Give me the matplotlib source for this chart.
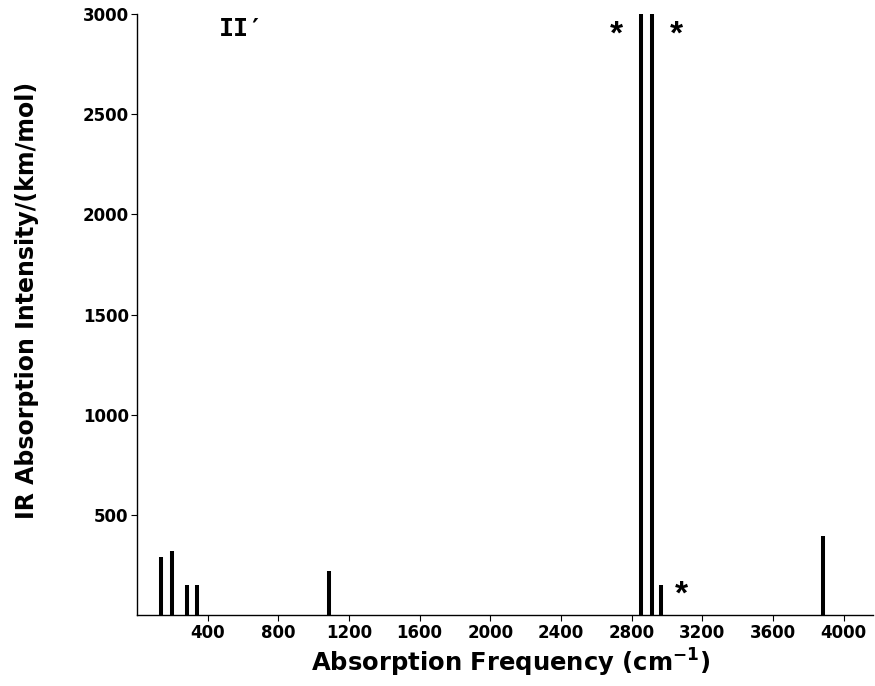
import matplotlib
matplotlib.use('Agg')
import matplotlib.pyplot as plt
import numpy as np

# IR spectrum of II' (frequencies in cm-1, intensities in km/mol)
freqs = [136, 196, 282, 338, 1084, 2853, 2915, 2968, 3883]
intensities = [294, 322, 150, 150, 223, 3300, 3200, 150, 396]

# bands marked with an asterisk (x, y label position)
star_x = [2714, 3054, 3082]
star_y = [2895, 2895, 100]

x_ticks = [400, 800, 1200, 1600, 2000, 2400, 2800, 3200, 3600, 4000]
y_ticks = [500, 1000, 1500, 2000, 2500, 3000]


def main():
    plt.rcParams['font.family'] = ['DejaVu Sans']
    fig = plt.figure(figsize=(8.75, 6.86), dpi=100)
    ax = fig.add_axes([0.1566, 0.1028, 0.8414, 0.8768])

    ax.vlines(freqs, 0, intensities, colors='black', linewidth=2.9)

    for x, y in zip(star_x, star_y):
        ax.text(x, y, '*', fontsize=24, fontweight='bold', ha='center', va='center',
                family='Liberation Sans')

    ax.text(588, 2925, "II\u2032", fontsize=18, fontweight='bold',
            family=['DejaVu Sans Mono'], ha='center', va='center')

    ax.set_xlim(0, 4168)
    ax.set_ylim(0, 3000)
    ax.set_xticks(x_ticks)
    ax.set_yticks(y_ticks)
    ax.tick_params(axis='both', labelsize=12, length=4, width=0.8, direction='out', pad=2)
    for lab in ax.get_xticklabels() + ax.get_yticklabels():
        lab.set_fontweight('bold')

    ax.spines['top'].set_visible(False)
    ax.spines['right'].set_visible(False)
    for s in ['left', 'bottom']:
        ax.spines[s].set_linewidth(1.0)

    ax.set_xlabel(r'Absorption Frequency (cm$^{\mathbf{-1}}$)', fontsize=17.5, fontweight='bold')
    ax.set_ylabel('IR Absorption Intensity/(km/mol)', fontsize=17, fontweight='bold')
    ax.xaxis.set_label_coords(0.508, -0.052)
    ax.yaxis.set_label_coords(-0.133, 0.524)

    fig.savefig('out.png', dpi=100)


if __name__ == '__main__':
    main()
